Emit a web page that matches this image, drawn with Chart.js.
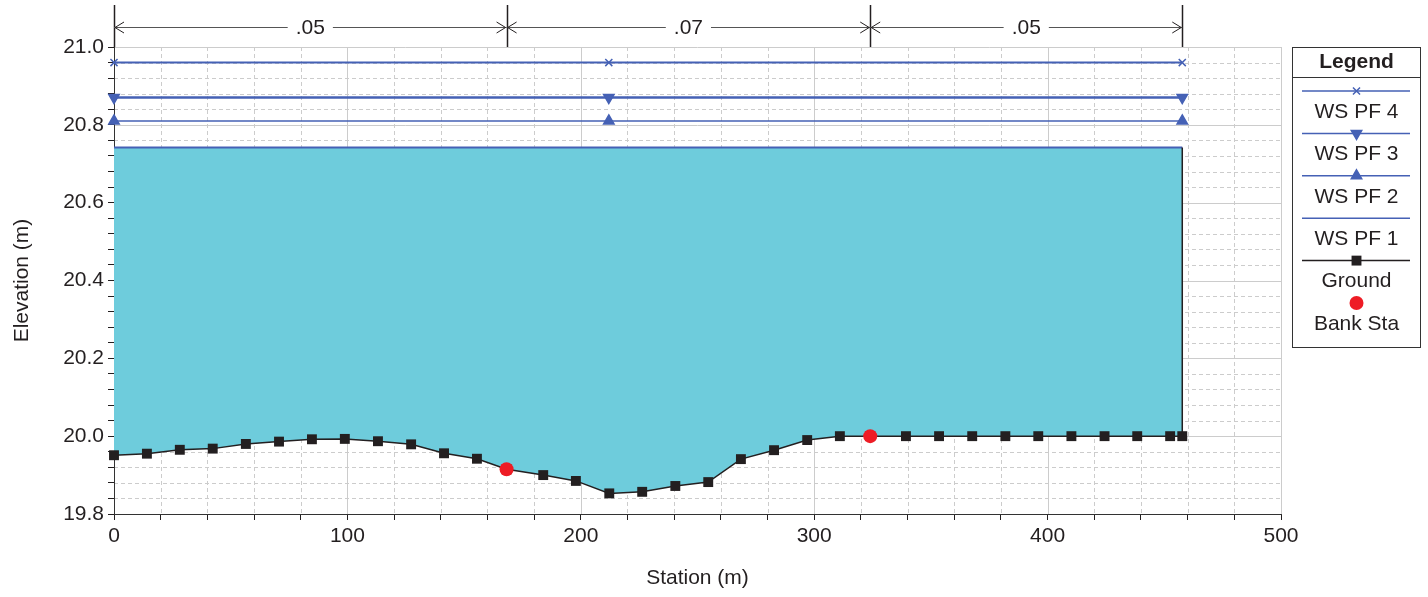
<!DOCTYPE html>
<html>
<head>
<meta charset="utf-8">
<script src="https://cdn.jsdelivr.net/npm/chart.js@4.4.1/dist/chart.umd.min.js"></script>
<style>
  html, body { margin: 0; padding: 0; background: #fff; }
  #wrap { width: 1428px; height: 597px; }
</style>
</head>
<body>
<div id="wrap"><canvas id="xsChart" width="1428" height="597"></canvas></div>
<script>
Chart.defaults.font.family = '"Liberation Sans", Arial, sans-serif';
Chart.defaults.font.size = 21;
Chart.defaults.color = '#231F20';

// ground profile (station m, elevation m)
const groundSta = [0, 14.1, 28.2, 42.3, 56.5, 70.7, 84.8, 98.9, 113.1, 127.3, 141.4, 155.5,
  168.2, 183.9, 197.9, 212.2, 226.3, 240.5, 254.6, 268.6, 282.8, 297.0, 311.0, 324.0,
  339.3, 353.5, 367.7, 381.9, 396.0, 410.2, 424.4, 438.4, 452.5, 457.7];
const groundElev = [19.951, 19.955, 19.965, 19.968, 19.980, 19.986, 19.992, 19.993, 19.987, 19.979, 19.956, 19.942,
  19.915, 19.900, 19.885, 19.853, 19.857, 19.872, 19.882, 19.941, 19.964, 19.990, 20.0, 20.0,
  20.0, 20.0, 20.0, 20.0, 20.0, 20.0, 20.0, 20.0, 20.0, 20.0];

// bank stations
const bankSta = [168.2, 324.0];
const bankElev = [19.915, 20.0];

// water surfaces
const wsNames = ['WS PF 4', 'WS PF 3', 'WS PF 2', 'WS PF 1'];
const wsLevels = [20.960, 20.870, 20.810, 20.742];
const wsSta = [0, 212.0, 457.7];

// manning's n breaks along the top
const nBreaks = [0, 168.2, 324.0, 457.7];
const nValues = ['.05', '.07', '.05'];

const BLUE = '#4561B5';
const GROUND = '#231F20';
const WATER = '#6ECCDC';
const RED = '#EE1C25';
const GRID = '#CCCCCC';
const FONT = '"Liberation Sans", Arial, sans-serif';

function pts(xs, ys) {
  return xs.map((x, i) => ({ x: x, y: Array.isArray(ys) ? ys[i] : ys }));
}

const wsStyles = [
  { pointStyle: 'crossRot', rotation: 0, radius: 5, width: 2 },
  { pointStyle: 'triangle', rotation: 180, radius: 6, width: 2.5 },
  { pointStyle: 'triangle', rotation: 0, radius: 6, width: 1.5 },
  { pointStyle: false, rotation: 0, radius: 0, width: 2 }
];

const wsSets = wsNames.map((name, i) => ({
  label: name,
  data: pts(wsSta, wsLevels[i]),
  borderColor: BLUE,
  backgroundColor: BLUE,
  borderWidth: wsStyles[i].width,
  pointStyle: wsStyles[i].pointStyle,
  pointRotation: wsStyles[i].rotation,
  pointRadius: wsStyles[i].radius,
  pointBorderWidth: 1.5,
  fill: false,
  clip: false,
  order: i + 1
}));

const datasets = [
  ...wsSets,
  {
    label: 'Ground',
    data: pts(groundSta, groundElev),
    borderColor: GROUND,
    borderWidth: 1.5,
    backgroundColor: WATER,
    pointStyle: 'rect',
    pointRadius: 7,
    pointBackgroundColor: GROUND,
    pointBorderColor: GROUND,
    pointBorderWidth: 0,
    fill: { value: wsLevels[3] },
    clip: false,
    order: 5
  },
  {
    label: 'Bank Sta',
    data: pts(bankSta, bankElev),
    showLine: false,
    pointStyle: 'circle',
    pointRadius: 7,
    pointBackgroundColor: RED,
    pointBorderColor: RED,
    pointBorderWidth: 0,
    fill: false,
    clip: false,
    order: 0
  }
];

const near = (v, step) => Math.abs(v / step - Math.round(v / step)) < 1e-6;

const xsPlugin = {
  id: 'xsPlugin',
  beforeDraw(chart) {
    const { ctx, chartArea: a, scales: { x, y } } = chart;
    ctx.save();
    ctx.lineWidth = 1;
    ctx.strokeStyle = GRID;
    x.ticks.forEach(t => {
      if (t.value === x.min) return;
      const px = Math.round(x.getPixelForValue(t.value)) + 0.5;
      ctx.setLineDash(near(t.value, 100) ? [] : [4, 3]);
      ctx.beginPath(); ctx.moveTo(px, a.top); ctx.lineTo(px, a.bottom); ctx.stroke();
    });
    y.ticks.forEach(t => {
      if (Math.abs(t.value - y.min) < 1e-6) return;
      const py = Math.round(y.getPixelForValue(t.value)) + 0.5;
      ctx.setLineDash(near(t.value, 0.2) ? [] : [4, 3]);
      ctx.beginPath(); ctx.moveTo(a.left, py); ctx.lineTo(a.right, py); ctx.stroke();
    });
    ctx.restore();
  },
  afterDatasetsDraw(chart) {
    // wall at the end of the section
    const { ctx, scales: { x, y } } = chart;
    const last = groundSta.length - 1;
    const px = x.getPixelForValue(groundSta[last]);
    ctx.save();
    ctx.strokeStyle = GROUND;
    ctx.lineWidth = 1.5;
    ctx.beginPath();
    ctx.moveTo(px, y.getPixelForValue(groundElev[last]));
    ctx.lineTo(px, y.getPixelForValue(wsLevels[3]));
    ctx.stroke();
    ctx.restore();
  },
  afterDraw(chart) {
    const { ctx, chartArea: a, scales: { x } } = chart;
    ctx.save();
    // manning's n bands
    const ay = 27;
    ctx.strokeStyle = '#231F20';
    ctx.lineWidth = 1.5;
    nBreaks.forEach(s => {
      const px = Math.round(x.getPixelForValue(s)) + 0.5;
      ctx.beginPath(); ctx.moveTo(px, 5); ctx.lineTo(px, a.top); ctx.stroke();
    });
    ctx.font = '21px ' + FONT;
    ctx.fillStyle = '#231F20';
    ctx.textAlign = 'center';
    ctx.textBaseline = 'middle';
    nValues.forEach((lbl, i) => {
      const x0 = x.getPixelForValue(nBreaks[i]);
      const x1 = x.getPixelForValue(nBreaks[i + 1]);
      const mid = (x0 + x1) / 2;
      const hw = ctx.measureText(lbl).width / 2 + 8;
      ctx.strokeStyle = '#555';
      ctx.lineWidth = 1;
      ctx.beginPath();
      ctx.moveTo(x0, ay + 0.5); ctx.lineTo(mid - hw, ay + 0.5);
      ctx.moveTo(mid + hw, ay + 0.5); ctx.lineTo(x1, ay + 0.5);
      ctx.stroke();
      ctx.strokeStyle = '#231F20';
      ctx.beginPath();
      ctx.moveTo(x0 + 10, ay - 5); ctx.lineTo(x0 + 1, ay + 0.5); ctx.lineTo(x0 + 10, ay + 6);
      ctx.moveTo(x1 - 10, ay - 5); ctx.lineTo(x1 - 1, ay + 0.5); ctx.lineTo(x1 - 10, ay + 6);
      ctx.stroke();
      ctx.fillText(lbl, mid, ay + 1);
    });

    // legend box
    const L = 1292.5, R = 1420.5, T = 47.5, B = 347.5, cx = (L + R) / 2;
    ctx.strokeStyle = '#333';
    ctx.lineWidth = 1;
    ctx.strokeRect(L, T, R - L, B - T);
    ctx.beginPath(); ctx.moveTo(L, 77.5); ctx.lineTo(R, 77.5); ctx.stroke();
    ctx.font = 'bold 21px ' + FONT;
    ctx.fillText('Legend', cx, 62);
    ctx.font = '21px ' + FONT;
    const items = chart.data.datasets;
    items.forEach((ds, i) => {
      const ly = 91 + i * 42.4;
      if (ds.showLine !== false) {
        ctx.strokeStyle = ds.borderColor;
        ctx.lineWidth = 1.5;
        ctx.beginPath(); ctx.moveTo(1302, ly); ctx.lineTo(1410, ly); ctx.stroke();
      }
      if (ds.pointStyle) {
        ctx.fillStyle = ds.pointBackgroundColor || ds.backgroundColor;
        ctx.strokeStyle = ds.pointBorderColor || ds.borderColor;
        Chart.helpers.drawPoint(ctx, {
          pointStyle: ds.pointStyle,
          rotation: ds.pointRotation || 0,
          radius: ds.pointRadius,
          borderWidth: ds.pointBorderWidth
        }, cx, ly);
      }
      ctx.fillStyle = '#231F20';
      ctx.fillText(ds.label, cx, ly + 21);
    });
    ctx.restore();
  }
};

const ctx = document.getElementById('xsChart').getContext('2d');
new Chart(ctx, {
  type: 'line',
  data: { datasets: datasets },
  options: {
    responsive: false,
    animation: false,
    layout: { padding: { top: 47, right: 147, left: 0, bottom: 0 } },
    plugins: {
      legend: { display: false },
      tooltip: { enabled: false }
    },
    scales: {
      x: {
        type: 'linear',
        min: 0,
        max: 500,
        afterFit: s => { s.height = 83; },
        ticks: {
          stepSize: 20,
          autoSkip: false,
          maxRotation: 0,
          padding: 4,
          callback: v => near(v, 100) ? String(v) : ''
        },
        grid: { drawOnChartArea: false, tickLength: 6, tickColor: '#231F20' },
        border: { color: '#333', width: 1 },
        title: { display: true, text: 'Station (m)', padding: { top: 0, bottom: 6 } }
      },
      y: {
        type: 'linear',
        min: 19.8,
        max: 21.0,
        afterFit: s => { s.width = 114; },
        ticks: {
          stepSize: 0.04,
          autoSkip: false,
          padding: 4,
          callback: v => near(v, 0.2) ? v.toFixed(1) : ''
        },
        grid: { drawOnChartArea: false, tickLength: 6, tickColor: '#231F20' },
        border: { color: '#333', width: 1 },
        title: { display: true, text: 'Elevation (m)', padding: { top: 10, bottom: 0 } }
      }
    }
  },
  plugins: [xsPlugin]
});
</script>
</body>
</html>
